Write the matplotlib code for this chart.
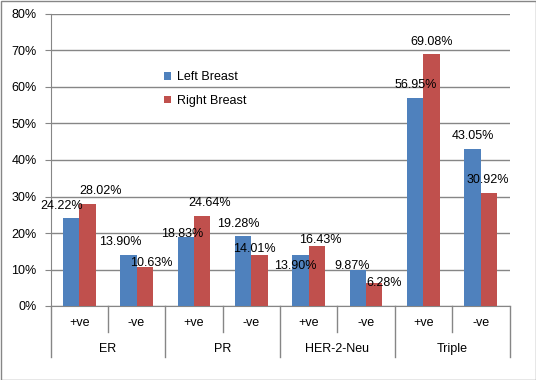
import matplotlib
matplotlib.use("Agg")
import matplotlib.pyplot as plt
from matplotlib.patches import Rectangle
from matplotlib.transforms import blended_transform_factory

plt.rcParams["font.family"] = ["Liberation Sans", "DejaVu Sans"]

groups = ["ER", "PR", "HER-2-Neu", "Triple"]
subgroups = ["+ve", "-ve"]
left_breast = [24.22, 13.90, 18.83, 19.28, 13.90, 9.87, 56.95, 43.05]
right_breast = [28.02, 10.63, 24.64, 14.01, 16.43, 6.28, 69.08, 30.92]

# manual label nudges (pixels) as placed in the original sheet
left_nudge = [(-9, 12), (-8, 13), (-4, 3), (-5, 12), (-5, -11), (-6, 4), (0, 13), (0, 13)]
right_nudge = [(13, 13), (7, 4), (7, 13), (-5, 6), (3, 6), (10, 0), (0, 12), (-1, 13)]

blue = "#4F81BD"
red = "#C0504D"
grey = "#868686"
fs = 9

W, H = 536, 380
fig = plt.figure(figsize=(W / 100, H / 100), dpi=100)
ax = fig.add_axes([50.5 / W, 1 - 306 / H, 459 / W, 292 / H])

n = len(left_breast)
x = list(range(n))
bw = 0.286
ax.bar([i - bw / 2 for i in x], left_breast, bw, color=blue, label="Left Breast", zorder=3)
ax.bar([i + bw / 2 for i in x], right_breast, bw, color=red, label="Right Breast", zorder=3)

for i in x:
    for val, off, (dx, dy) in ((left_breast[i], -bw / 2, left_nudge[i]),
                              (right_breast[i], bw / 2, right_nudge[i])):
        ax.annotate(f"{val:.2f}%", (i + off, val), xytext=(dx * 0.72, dy * 0.72),
                    textcoords="offset points", ha="center", va="center",
                    fontsize=fs, zorder=4)

ax.set_xlim(-0.5, n - 0.5)
ax.set_ylim(0, 80)
ax.set_yticks(range(0, 81, 10))
ax.set_yticklabels([f"{v}%" for v in range(0, 81, 10)])
ax.yaxis.grid(True, color=grey, linewidth=1)
ax.set_axisbelow(True)
ax.tick_params(axis="y", length=4, color=grey, labelsize=fs, pad=6)
ax.set_xticks([])
for s in ("top", "right"):
    ax.spines[s].set_visible(False)
for s in ("left", "bottom"):
    ax.spines[s].set_color(grey)

# two-level category axis
tr = blended_transform_factory(ax.transData, ax.transAxes)
short, long_ = -26 / 292, -51 / 292
for k in range(n + 1):
    bottom = long_ if k % 2 == 0 else short
    ax.plot([k - 0.5, k - 0.5], [0, bottom], color=grey, lw=1, transform=tr, clip_on=False)
for i in x:
    ax.text(i, -17 / 292, subgroups[i % 2], transform=tr, ha="center", va="center", fontsize=fs)
for g, name in enumerate(groups):
    ax.text(2 * g + 0.5, -43 / 292, name, transform=tr, ha="center", va="center", fontsize=fs)

ax.legend(loc="upper left", bbox_to_anchor=(108 / 459, 1 - 52 / 292), frameon=False,
          fontsize=fs, handlelength=0.6, handleheight=0.6, handletextpad=0.5,
          labelspacing=0.95, borderaxespad=0)

fig.patches.append(Rectangle((0.5 / W, 0.5 / H), 1 - 1 / W, 1 - 1 / H, transform=fig.transFigure,
                             fill=False, edgecolor=grey, linewidth=1))

fig.savefig("out.png", dpi=100)
